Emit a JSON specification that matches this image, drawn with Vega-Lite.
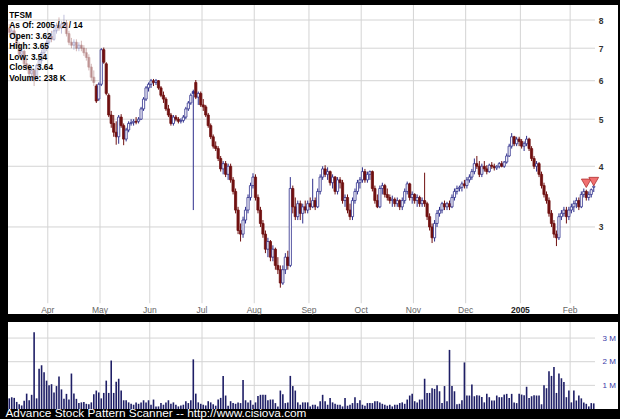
{
"$schema":"https://vega.github.io/schema/vega-lite/v6.json",
"background":"#000000",
"padding":{"left":5,"top":4,"right":5,"bottom":0},
"spacing":6,
"config":{"view":{"fill":"#ffffff","stroke":null},"font":"Liberation Sans"},
"title":{"text":"Advance Stock Pattern Scanner -- http://www.cisiova.com","orient":"bottom","anchor":"start","frame":"bounds","color":"#ffffff","fontSize":11.8,"fontWeight":"normal","font":"Liberation Sans","offset":-1.5,"dx":-2},
"datasets":{
"mon":[{"d":"2004-04-01","t":"Apr"},{"d":"2004-05-03","t":"May"},{"d":"2004-06-01","t":"Jun"},{"d":"2004-07-01","t":"Jul"},{"d":"2004-08-02","t":"Aug"},{"d":"2004-09-01","t":"Sep"},{"d":"2004-10-01","t":"Oct"},{"d":"2004-11-01","t":"Nov"},{"d":"2004-12-01","t":"Dec"},{"d":"2005-01-03","t":"2005"},{"d":"2005-02-01","t":"Feb"}],
"lv":[{"p":3},{"p":4},{"p":5},{"p":6},{"p":7},{"p":8}],
"vlv":[{"v":1},{"v":2},{"v":3}],
"sig":[{"d":"2005-02-09","p":3.69},{"d":"2005-02-14","p":3.72}],
"px":[
{"d":"2004-03-10","o":7.7,"h":7.85,"l":7.45,"c":7.55,"v":0.45},
{"d":"2004-03-11","o":7.5,"h":7.7,"l":7.3,"c":7.6,"v":0.5},
{"d":"2004-03-12","o":7.6,"h":7.8,"l":7.4,"c":7.45,"v":0.47},
{"d":"2004-03-15","o":7.4,"h":7.5,"l":7.0,"c":7.1,"v":0.3},
{"d":"2004-03-16","o":7.1,"h":7.2,"l":6.7,"c":6.8,"v":0.2},
{"d":"2004-03-17","o":6.8,"h":7.0,"l":6.6,"c":6.9,"v":0.15},
{"d":"2004-03-18","o":6.9,"h":6.95,"l":6.4,"c":6.5,"v":0.35},
{"d":"2004-03-19","o":6.5,"h":6.7,"l":6.3,"c":6.4,"v":0.65},
{"d":"2004-03-22","o":6.4,"h":6.5,"l":6.0,"c":6.2,"v":0.37},
{"d":"2004-03-23","o":6.2,"h":6.4,"l":6.0,"c":6.3,"v":0.6},
{"d":"2004-03-24","o":6.3,"h":6.35,"l":5.85,"c":6.1,"v":3.25},
{"d":"2004-03-25","o":6.1,"h":6.5,"l":6.05,"c":6.45,"v":0.45},
{"d":"2004-03-26","o":6.45,"h":6.7,"l":6.3,"c":6.6,"v":1.7},
{"d":"2004-03-29","o":6.6,"h":6.95,"l":6.5,"c":6.85,"v":1.85},
{"d":"2004-03-30","o":6.85,"h":7.1,"l":6.7,"c":7.0,"v":1.55},
{"d":"2004-03-31","o":7.0,"h":7.3,"l":6.9,"c":7.2,"v":1.2},
{"d":"2004-04-01","o":7.2,"h":7.5,"l":7.1,"c":7.4,"v":1.0},
{"d":"2004-04-02","o":7.4,"h":7.6,"l":7.2,"c":7.3,"v":1.05},
{"d":"2004-04-05","o":7.3,"h":7.7,"l":7.25,"c":7.6,"v":0.7},
{"d":"2004-04-06","o":7.6,"h":7.9,"l":7.5,"c":7.8,"v":0.97},
{"d":"2004-04-07","o":7.8,"h":8.1,"l":7.6,"c":7.7,"v":1.37},
{"d":"2004-04-08","o":7.7,"h":7.95,"l":7.5,"c":7.85,"v":0.83},
{"d":"2004-04-12","o":7.85,"h":8.2,"l":7.7,"c":7.9,"v":0.43},
{"d":"2004-04-13","o":7.9,"h":8.0,"l":7.4,"c":7.5,"v":0.64},
{"d":"2004-04-14","o":7.5,"h":7.6,"l":7.1,"c":7.2,"v":0.4},
{"d":"2004-04-15","o":7.2,"h":7.35,"l":7.0,"c":7.1,"v":1.5},
{"d":"2004-04-16","o":7.1,"h":7.3,"l":6.95,"c":7.2,"v":0.66},
{"d":"2004-04-19","o":7.2,"h":7.3,"l":6.9,"c":7.0,"v":0.43},
{"d":"2004-04-20","o":7.0,"h":7.2,"l":6.9,"c":7.1,"v":0.25},
{"d":"2004-04-21","o":7.1,"h":7.25,"l":6.9,"c":7.0,"v":0.28},
{"d":"2004-04-22","o":7.0,"h":7.1,"l":6.75,"c":6.85,"v":0.3},
{"d":"2004-04-23","o":6.85,"h":7.0,"l":6.6,"c":6.7,"v":0.22},
{"d":"2004-04-26","o":6.7,"h":6.8,"l":6.3,"c":6.4,"v":0.2},
{"d":"2004-04-27","o":6.4,"h":6.5,"l":6.0,"c":6.1,"v":0.28},
{"d":"2004-04-28","o":6.1,"h":6.3,"l":5.85,"c":5.95,"v":0.62},
{"d":"2004-04-29","o":5.85,"h":5.9,"l":5.4,"c":5.45,"v":0.78},
{"d":"2004-04-30","o":5.5,"h":5.95,"l":5.45,"c":5.9,"v":0.7},
{"d":"2004-05-03","o":5.9,"h":7.0,"l":5.85,"c":6.95,"v":0.45},
{"d":"2004-05-04","o":6.95,"h":7.02,"l":6.5,"c":6.55,"v":0.68},
{"d":"2004-05-05","o":6.5,"h":6.55,"l":5.6,"c":5.65,"v":1.2},
{"d":"2004-05-06","o":5.6,"h":5.65,"l":5.05,"c":5.1,"v":0.68},
{"d":"2004-05-07","o":5.1,"h":5.2,"l":4.8,"c":4.9,"v":2.05},
{"d":"2004-05-10","o":4.9,"h":5.1,"l":4.6,"c":4.7,"v":0.68},
{"d":"2004-05-11","o":4.7,"h":4.95,"l":4.43,"c":4.6,"v":1.15},
{"d":"2004-05-12","o":4.6,"h":5.1,"l":4.45,"c":5.05,"v":1.28},
{"d":"2004-05-13","o":5.05,"h":5.12,"l":4.8,"c":4.85,"v":0.78},
{"d":"2004-05-14","o":4.85,"h":4.9,"l":4.42,"c":4.55,"v":0.37},
{"d":"2004-05-17","o":4.55,"h":4.8,"l":4.5,"c":4.75,"v":0.37},
{"d":"2004-05-18","o":4.75,"h":4.95,"l":4.7,"c":4.9,"v":0.28},
{"d":"2004-05-19","o":4.9,"h":5.0,"l":4.85,"c":4.92,"v":0.22},
{"d":"2004-05-20","o":4.92,"h":5.0,"l":4.85,"c":4.95,"v":0.18},
{"d":"2004-05-21","o":4.95,"h":5.05,"l":4.88,"c":4.93,"v":0.28},
{"d":"2004-05-24","o":4.95,"h":5.05,"l":4.9,"c":5.0,"v":0.22},
{"d":"2004-05-25","o":5.0,"h":5.3,"l":4.98,"c":5.25,"v":0.28},
{"d":"2004-05-26","o":5.25,"h":5.55,"l":5.2,"c":5.5,"v":0.37},
{"d":"2004-05-27","o":5.5,"h":5.85,"l":5.45,"c":5.8,"v":0.28},
{"d":"2004-05-28","o":5.8,"h":5.95,"l":5.7,"c":5.9,"v":0.37},
{"d":"2004-06-01","o":5.9,"h":6.05,"l":5.8,"c":6.0,"v":0.18},
{"d":"2004-06-02","o":6.0,"h":6.05,"l":5.85,"c":5.95,"v":0.4},
{"d":"2004-06-03","o":5.95,"h":6.05,"l":5.88,"c":6.0,"v":0.11},
{"d":"2004-06-04","o":6.0,"h":6.02,"l":5.75,"c":5.8,"v":0.11},
{"d":"2004-06-07","o":5.8,"h":5.85,"l":5.55,"c":5.6,"v":0.25},
{"d":"2004-06-08","o":5.6,"h":5.7,"l":5.4,"c":5.5,"v":0.18},
{"d":"2004-06-09","o":5.5,"h":5.55,"l":5.2,"c":5.25,"v":0.28},
{"d":"2004-06-10","o":5.25,"h":5.35,"l":5.05,"c":5.1,"v":0.37},
{"d":"2004-06-14","o":5.1,"h":5.15,"l":4.85,"c":4.9,"v":0.22},
{"d":"2004-06-15","o":4.9,"h":5.1,"l":4.85,"c":5.05,"v":0.28},
{"d":"2004-06-16","o":5.05,"h":5.1,"l":4.95,"c":5.0,"v":0.18},
{"d":"2004-06-17","o":5.0,"h":5.05,"l":4.9,"c":4.95,"v":0.11},
{"d":"2004-06-18","o":4.95,"h":5.02,"l":4.9,"c":4.97,"v":0.15},
{"d":"2004-06-21","o":4.97,"h":5.1,"l":4.92,"c":5.05,"v":0.18},
{"d":"2004-06-22","o":5.05,"h":5.3,"l":5.0,"c":5.25,"v":0.33},
{"d":"2004-06-23","o":5.25,"h":5.45,"l":5.2,"c":5.4,"v":0.25},
{"d":"2004-06-24","o":5.4,"h":5.65,"l":5.35,"c":5.6,"v":0.37},
{"d":"2004-06-25","o":5.7,"h":5.75,"l":3.25,"c":5.65,"v":2.1},
{"d":"2004-06-28","o":5.95,"h":6.02,"l":5.5,"c":5.55,"v":0.65},
{"d":"2004-06-29","o":5.55,"h":5.7,"l":5.35,"c":5.65,"v":0.28},
{"d":"2004-06-30","o":5.65,"h":5.7,"l":5.3,"c":5.35,"v":0.22},
{"d":"2004-07-01","o":5.35,"h":5.5,"l":5.2,"c":5.3,"v":0.18},
{"d":"2004-07-02","o":5.3,"h":5.35,"l":5.05,"c":5.1,"v":0.15},
{"d":"2004-07-06","o":5.1,"h":5.15,"l":4.8,"c":4.85,"v":0.33},
{"d":"2004-07-07","o":4.85,"h":4.9,"l":4.55,"c":4.6,"v":0.28},
{"d":"2004-07-08","o":4.6,"h":4.65,"l":4.35,"c":4.4,"v":0.2},
{"d":"2004-07-09","o":4.4,"h":4.5,"l":4.3,"c":4.35,"v":0.14},
{"d":"2004-07-12","o":4.35,"h":4.4,"l":4.1,"c":4.15,"v":0.4},
{"d":"2004-07-13","o":4.15,"h":4.2,"l":3.9,"c":3.95,"v":0.47},
{"d":"2004-07-14","o":3.95,"h":4.1,"l":3.85,"c":4.05,"v":1.4},
{"d":"2004-07-15","o":4.05,"h":4.1,"l":3.8,"c":3.85,"v":0.57},
{"d":"2004-07-16","o":3.85,"h":4.05,"l":3.75,"c":4.0,"v":0.14},
{"d":"2004-07-19","o":4.0,"h":4.05,"l":3.7,"c":3.75,"v":0.33},
{"d":"2004-07-20","o":3.75,"h":3.8,"l":3.5,"c":3.55,"v":0.25},
{"d":"2004-07-21","o":3.55,"h":3.6,"l":3.2,"c":3.25,"v":0.22},
{"d":"2004-07-22","o":3.25,"h":3.3,"l":2.9,"c":2.95,"v":0.28},
{"d":"2004-07-23","o":2.95,"h":3.05,"l":2.8,"c":2.9,"v":0.25},
{"d":"2004-07-26","o":2.9,"h":3.15,"l":2.85,"c":3.1,"v":1.23},
{"d":"2004-07-27","o":3.1,"h":3.3,"l":3.05,"c":3.25,"v":0.37},
{"d":"2004-07-28","o":3.25,"h":3.5,"l":3.2,"c":3.45,"v":0.28},
{"d":"2004-07-29","o":3.45,"h":3.7,"l":3.4,"c":3.65,"v":0.37},
{"d":"2004-07-30","o":3.65,"h":3.87,"l":3.6,"c":3.8,"v":0.18},
{"d":"2004-08-02","o":3.8,"h":3.85,"l":3.4,"c":3.45,"v":0.28},
{"d":"2004-08-03","o":3.45,"h":3.5,"l":3.2,"c":3.25,"v":0.55},
{"d":"2004-08-04","o":3.25,"h":3.3,"l":3.0,"c":3.05,"v":0.6},
{"d":"2004-08-05","o":3.05,"h":3.1,"l":2.85,"c":2.9,"v":0.6},
{"d":"2004-08-06","o":2.9,"h":2.95,"l":2.65,"c":2.7,"v":0.6},
{"d":"2004-08-09","o":2.7,"h":2.85,"l":2.6,"c":2.8,"v":0.37},
{"d":"2004-08-10","o":2.8,"h":2.82,"l":2.55,"c":2.6,"v":0.4},
{"d":"2004-08-11","o":2.6,"h":2.75,"l":2.55,"c":2.7,"v":0.4},
{"d":"2004-08-12","o":2.7,"h":2.72,"l":2.45,"c":2.5,"v":0.25},
{"d":"2004-08-13","o":2.5,"h":2.6,"l":2.4,"c":2.45,"v":0.11},
{"d":"2004-08-16","o":2.45,"h":2.5,"l":2.25,"c":2.3,"v":0.78},
{"d":"2004-08-17","o":2.3,"h":2.5,"l":2.28,"c":2.45,"v":0.62},
{"d":"2004-08-18","o":2.45,"h":2.65,"l":2.4,"c":2.6,"v":0.25},
{"d":"2004-08-19","o":2.6,"h":2.68,"l":2.45,"c":2.5,"v":0.28},
{"d":"2004-08-20","o":2.5,"h":3.8,"l":2.48,"c":3.6,"v":1.4},
{"d":"2004-08-23","o":3.6,"h":3.65,"l":3.2,"c":3.3,"v":0.97},
{"d":"2004-08-24","o":3.3,"h":3.45,"l":3.1,"c":3.15,"v":0.78},
{"d":"2004-08-25","o":3.15,"h":3.4,"l":3.1,"c":3.35,"v":0.28},
{"d":"2004-08-26","o":3.35,"h":3.4,"l":3.1,"c":3.2,"v":0.18},
{"d":"2004-08-27","o":3.2,"h":3.35,"l":3.05,"c":3.3,"v":0.28},
{"d":"2004-08-30","o":3.3,"h":3.4,"l":3.2,"c":3.25,"v":0.28},
{"d":"2004-08-31","o":3.25,"h":3.4,"l":3.2,"c":3.35,"v":0.28},
{"d":"2004-09-01","o":3.35,"h":3.45,"l":3.25,"c":3.3,"v":0.11},
{"d":"2004-09-02","o":3.3,"h":3.77,"l":3.28,"c":3.4,"v":0.18},
{"d":"2004-09-03","o":3.4,"h":3.45,"l":3.25,"c":3.3,"v":0.18},
{"d":"2004-09-07","o":3.3,"h":3.6,"l":3.28,"c":3.55,"v":0.11},
{"d":"2004-09-08","o":3.55,"h":3.85,"l":3.5,"c":3.8,"v":0.33},
{"d":"2004-09-09","o":3.8,"h":4.0,"l":3.75,"c":3.95,"v":0.6},
{"d":"2004-09-10","o":3.95,"h":4.02,"l":3.8,"c":3.85,"v":0.33},
{"d":"2004-09-13","o":3.85,"h":3.98,"l":3.75,"c":3.9,"v":0.18},
{"d":"2004-09-14","o":3.9,"h":3.92,"l":3.65,"c":3.7,"v":0.47},
{"d":"2004-09-15","o":3.7,"h":3.85,"l":3.6,"c":3.8,"v":0.28},
{"d":"2004-09-16","o":3.8,"h":3.82,"l":3.5,"c":3.55,"v":0.22},
{"d":"2004-09-17","o":3.55,"h":3.8,"l":3.5,"c":3.75,"v":0.18},
{"d":"2004-09-20","o":3.75,"h":3.8,"l":3.6,"c":3.7,"v":0.18},
{"d":"2004-09-21","o":3.7,"h":3.75,"l":3.35,"c":3.4,"v":0.11},
{"d":"2004-09-22","o":3.4,"h":3.5,"l":3.3,"c":3.45,"v":0.47},
{"d":"2004-09-23","o":3.45,"h":3.5,"l":3.2,"c":3.25,"v":0.14},
{"d":"2004-09-24","o":3.25,"h":3.35,"l":3.1,"c":3.15,"v":0.18},
{"d":"2004-09-27","o":3.15,"h":3.45,"l":3.1,"c":3.4,"v":0.25},
{"d":"2004-09-28","o":3.4,"h":3.6,"l":3.35,"c":3.55,"v":0.5},
{"d":"2004-09-29","o":3.55,"h":3.75,"l":3.5,"c":3.7,"v":0.25},
{"d":"2004-09-30","o":3.7,"h":3.8,"l":3.6,"c":3.75,"v":0.37},
{"d":"2004-10-01","o":3.75,"h":3.98,"l":3.7,"c":3.9,"v":0.18},
{"d":"2004-10-04","o":3.9,"h":3.95,"l":3.7,"c":3.75,"v":0.14},
{"d":"2004-10-05","o":3.75,"h":3.9,"l":3.7,"c":3.85,"v":0.25},
{"d":"2004-10-06","o":3.85,"h":3.92,"l":3.75,"c":3.9,"v":0.25},
{"d":"2004-10-07","o":3.9,"h":3.92,"l":3.55,"c":3.6,"v":0.25},
{"d":"2004-10-08","o":3.6,"h":3.65,"l":3.35,"c":3.4,"v":0.33},
{"d":"2004-10-11","o":3.4,"h":3.5,"l":3.28,"c":3.3,"v":0.33},
{"d":"2004-10-12","o":3.3,"h":3.65,"l":3.28,"c":3.6,"v":0.28},
{"d":"2004-10-13","o":3.6,"h":3.7,"l":3.5,"c":3.65,"v":0.22},
{"d":"2004-10-14","o":3.65,"h":3.68,"l":3.45,"c":3.5,"v":0.18},
{"d":"2004-10-15","o":3.5,"h":3.6,"l":3.4,"c":3.45,"v":0.14},
{"d":"2004-10-18","o":3.45,"h":3.5,"l":3.35,"c":3.4,"v":0.18},
{"d":"2004-10-19","o":3.4,"h":3.48,"l":3.3,"c":3.42,"v":0.11},
{"d":"2004-10-20","o":3.42,"h":3.45,"l":3.3,"c":3.35,"v":0.18},
{"d":"2004-10-21","o":3.35,"h":3.45,"l":3.3,"c":3.4,"v":0.18},
{"d":"2004-10-22","o":3.4,"h":3.42,"l":3.25,"c":3.3,"v":0.25},
{"d":"2004-10-25","o":3.3,"h":3.45,"l":3.25,"c":3.4,"v":0.28},
{"d":"2004-10-26","o":3.4,"h":3.6,"l":3.35,"c":3.55,"v":0.22},
{"d":"2004-10-27","o":3.55,"h":3.72,"l":3.5,"c":3.68,"v":0.4},
{"d":"2004-10-28","o":3.68,"h":3.7,"l":3.4,"c":3.45,"v":0.57},
{"d":"2004-10-29","o":3.45,"h":3.55,"l":3.35,"c":3.5,"v":0.65},
{"d":"2004-11-01","o":3.5,"h":3.52,"l":3.35,"c":3.4,"v":0.33},
{"d":"2004-11-02","o":3.4,"h":3.5,"l":3.3,"c":3.45,"v":0.28},
{"d":"2004-11-03","o":3.45,"h":3.48,"l":3.3,"c":3.35,"v":0.4},
{"d":"2004-11-04","o":3.35,"h":3.45,"l":3.3,"c":3.4,"v":0.4},
{"d":"2004-11-05","o":3.4,"h":3.88,"l":3.3,"c":3.35,"v":1.28},
{"d":"2004-11-08","o":3.35,"h":3.38,"l":3.1,"c":3.15,"v":0.68},
{"d":"2004-11-09","o":3.15,"h":3.2,"l":2.95,"c":3.0,"v":0.68},
{"d":"2004-11-10","o":3.0,"h":3.05,"l":2.78,"c":2.85,"v":0.88},
{"d":"2004-11-11","o":2.85,"h":3.1,"l":2.8,"c":3.05,"v":0.85},
{"d":"2004-11-12","o":3.05,"h":3.25,"l":3.0,"c":3.2,"v":1.0},
{"d":"2004-11-15","o":3.2,"h":3.3,"l":3.15,"c":3.25,"v":0.75},
{"d":"2004-11-16","o":3.25,"h":3.38,"l":3.2,"c":3.35,"v":0.25},
{"d":"2004-11-17","o":3.35,"h":3.4,"l":3.25,"c":3.3,"v":0.97},
{"d":"2004-11-18","o":3.3,"h":3.38,"l":3.25,"c":3.35,"v":0.33},
{"d":"2004-11-19","o":3.35,"h":3.4,"l":3.25,"c":3.3,"v":2.5},
{"d":"2004-11-22","o":3.3,"h":3.5,"l":3.28,"c":3.45,"v":0.97},
{"d":"2004-11-23","o":3.45,"h":3.6,"l":3.4,"c":3.55,"v":0.75},
{"d":"2004-11-24","o":3.55,"h":3.65,"l":3.5,"c":3.6,"v":0.2},
{"d":"2004-11-26","o":3.6,"h":3.65,"l":3.55,"c":3.62,"v":0.22},
{"d":"2004-11-29","o":3.62,"h":3.72,"l":3.55,"c":3.68,"v":0.37},
{"d":"2004-11-30","o":3.68,"h":3.75,"l":3.6,"c":3.65,"v":1.97},
{"d":"2004-12-01","o":3.65,"h":3.8,"l":3.6,"c":3.75,"v":0.57},
{"d":"2004-12-02","o":3.75,"h":3.85,"l":3.7,"c":3.8,"v":0.57},
{"d":"2004-12-03","o":3.8,"h":3.95,"l":3.75,"c":3.9,"v":1.04},
{"d":"2004-12-06","o":3.9,"h":4.15,"l":3.85,"c":4.05,"v":0.54},
{"d":"2004-12-07","o":4.05,"h":4.2,"l":3.95,"c":4.0,"v":0.58},
{"d":"2004-12-08","o":4.0,"h":4.1,"l":3.8,"c":3.85,"v":0.57},
{"d":"2004-12-09","o":3.85,"h":4.05,"l":3.8,"c":4.0,"v":0.51},
{"d":"2004-12-10","o":4.0,"h":4.1,"l":3.9,"c":3.95,"v":0.28},
{"d":"2004-12-13","o":3.95,"h":4.02,"l":3.85,"c":3.9,"v":0.64},
{"d":"2004-12-14","o":3.9,"h":4.05,"l":3.88,"c":4.02,"v":0.5},
{"d":"2004-12-15","o":4.02,"h":4.08,"l":3.95,"c":4.0,"v":0.36},
{"d":"2004-12-16","o":4.0,"h":4.05,"l":3.92,"c":3.97,"v":0.36},
{"d":"2004-12-17","o":3.97,"h":4.02,"l":3.93,"c":4.0,"v":0.57},
{"d":"2004-12-20","o":4.0,"h":4.08,"l":3.96,"c":4.05,"v":0.5},
{"d":"2004-12-21","o":4.05,"h":4.1,"l":3.98,"c":4.0,"v":0.5},
{"d":"2004-12-22","o":4.0,"h":4.1,"l":3.97,"c":4.08,"v":0.61},
{"d":"2004-12-23","o":4.08,"h":4.25,"l":4.05,"c":4.2,"v":0.64},
{"d":"2004-12-27","o":4.2,"h":4.45,"l":4.18,"c":4.4,"v":0.47},
{"d":"2004-12-28","o":4.4,"h":4.68,"l":4.35,"c":4.6,"v":0.64},
{"d":"2004-12-29","o":4.6,"h":4.62,"l":4.4,"c":4.45,"v":0.28},
{"d":"2004-12-30","o":4.45,"h":4.6,"l":4.4,"c":4.55,"v":0.25},
{"d":"2004-12-31","o":4.55,"h":4.6,"l":4.4,"c":4.5,"v":0.64},
{"d":"2005-01-03","o":4.5,"h":4.55,"l":4.35,"c":4.4,"v":0.61},
{"d":"2005-01-04","o":4.4,"h":4.5,"l":4.3,"c":4.45,"v":0.58},
{"d":"2005-01-05","o":4.45,"h":4.62,"l":4.4,"c":4.55,"v":0.94},
{"d":"2005-01-06","o":4.55,"h":4.58,"l":4.3,"c":4.35,"v":0.47},
{"d":"2005-01-07","o":4.35,"h":4.4,"l":4.1,"c":4.15,"v":0.54},
{"d":"2005-01-10","o":4.15,"h":4.2,"l":3.95,"c":4.0,"v":0.58},
{"d":"2005-01-11","o":4.0,"h":4.1,"l":3.9,"c":4.05,"v":0.57},
{"d":"2005-01-12","o":4.05,"h":4.08,"l":3.8,"c":3.85,"v":0.57},
{"d":"2005-01-13","o":3.85,"h":3.9,"l":3.6,"c":3.65,"v":0.2},
{"d":"2005-01-14","o":3.65,"h":3.7,"l":3.45,"c":3.5,"v":1.0},
{"d":"2005-01-18","o":3.5,"h":3.55,"l":3.35,"c":3.4,"v":0.88},
{"d":"2005-01-19","o":3.4,"h":3.45,"l":3.15,"c":3.2,"v":1.6},
{"d":"2005-01-20","o":3.2,"h":3.25,"l":3.0,"c":3.05,"v":1.4},
{"d":"2005-01-21","o":3.05,"h":3.1,"l":2.85,"c":2.9,"v":1.78},
{"d":"2005-01-24","o":2.9,"h":2.95,"l":2.74,"c":2.85,"v":0.68},
{"d":"2005-01-25","o":2.85,"h":3.2,"l":2.82,"c":3.15,"v":1.5},
{"d":"2005-01-26","o":3.15,"h":3.25,"l":3.1,"c":3.2,"v":1.3},
{"d":"2005-01-27","o":3.2,"h":3.3,"l":3.15,"c":3.25,"v":1.14},
{"d":"2005-01-28","o":3.25,"h":3.3,"l":3.05,"c":3.15,"v":0.5},
{"d":"2005-01-31","o":3.15,"h":3.3,"l":3.1,"c":3.25,"v":0.78},
{"d":"2005-02-01","o":3.25,"h":3.35,"l":3.2,"c":3.3,"v":0.28},
{"d":"2005-02-02","o":3.3,"h":3.4,"l":3.22,"c":3.35,"v":0.78},
{"d":"2005-02-03","o":3.35,"h":3.45,"l":3.28,"c":3.4,"v":0.36},
{"d":"2005-02-04","o":3.4,"h":3.45,"l":3.25,"c":3.3,"v":0.57},
{"d":"2005-02-07","o":3.3,"h":3.55,"l":3.28,"c":3.5,"v":0.45},
{"d":"2005-02-08","o":3.5,"h":3.6,"l":3.45,"c":3.55,"v":0.28},
{"d":"2005-02-09","o":3.55,"h":3.58,"l":3.4,"c":3.45,"v":0.22},
{"d":"2005-02-10","o":3.45,"h":3.55,"l":3.4,"c":3.5,"v":0.11},
{"d":"2005-02-11","o":3.5,"h":3.6,"l":3.45,"c":3.58,"v":0.25},
{"d":"2005-02-14","o":3.62,"h":3.65,"l":3.54,"c":3.64,"v":0.238}
]},
"vconcat":[
{"width":610,"height":309,
 "layer":[
  {"data":{"name":"mon"},"mark":{"type":"rule","color":"#d4d4d4","strokeWidth":1},
   "encoding":{"x":{"field":"d","type":"ordinal","bandPosition":0,"scale":{"type":"band","range":[0,587],"paddingInner":0,"paddingOuter":0},"axis":null},
               "y":{"datum":8.59,"type":"quantitative","scale":{"type":"log","domain":[1.986,8.59],"nice":false},
                    "axis":{"orient":"right","values":[3,4,5,6,7,8],"format":"d","domain":false,"ticks":false,"grid":false,"labelPadding":-17.5,"labelAlign":"center","labelFontWeight":"bold","labelFontSize":8.5,"labelColor":"#333333","labelOverlap":false,"title":null}},
               "y2":{"datum":2.09}}},
  {"data":{"name":"lv"},"mark":{"type":"rule","color":"#d4d4d4","strokeWidth":1},
   "encoding":{"x":{"datum":"2004-03-10","type":"ordinal","bandPosition":0,"axis":null},"x2":{"datum":"2005-02-14","bandPosition":1},
               "y":{"field":"p","type":"quantitative"}}},
  {"data":{"name":"px"},
   "transform":[{"window":[{"op":"lag","field":"c","as":"pc"}],"sort":[{"field":"d","order":"ascending"}]}],
   "layer":[
    {"mark":{"type":"rule","strokeWidth":1},
     "encoding":{"x":{"field":"d","type":"ordinal","axis":null},
                 "y":{"field":"l","type":"quantitative"},
                 "y2":{"field":"h"},
                 "color":{"condition":{"test":"datum.c >= (datum.pc == null ? datum.o : datum.pc)","value":"#2e2e8c"},"value":"#701010"},
                 "opacity":{"condition":{"test":"datum.d < '2004-04-29'","value":0.3},"value":1}}},
    {"mark":{"type":"bar","size":2.2,"strokeWidth":0.8},
     "encoding":{"x":{"field":"d","type":"ordinal","axis":null},
                 "y":{"field":"o","type":"quantitative"},"y2":{"field":"c"},
                 "stroke":{"condition":{"test":"datum.c >= (datum.pc == null ? datum.o : datum.pc)","value":"#2e2e8c"},"value":"#701010"},
                 "fill":{"condition":[{"test":"datum.c > datum.o","value":"#ffffff"},{"test":"datum.c >= (datum.pc == null ? datum.o : datum.pc)","value":"#2e2e8c"}],"value":"#701010"},
                 "opacity":{"condition":{"test":"datum.d < '2004-04-29'","value":0.3},"value":1}}}
   ]},
  {"data":{"name":"sig"},"mark":{"type":"point","shape":"triangle-down","filled":true,"size":95,"fill":"#f07070","stroke":"#b03030","strokeWidth":0.8,"opacity":1},
   "encoding":{"x":{"field":"d","type":"ordinal","axis":null},"y":{"field":"p","type":"quantitative"}}},
  {"data":{"name":"mon"},"transform":[{"filter":"datum.t != '2005'"}],
   "mark":{"type":"text","fontSize":8.5,"color":"#666666","baseline":"middle","align":"center"},
   "encoding":{"x":{"field":"d","type":"ordinal","bandPosition":0,"axis":null},"y":{"datum":2.024,"type":"quantitative"},"text":{"field":"t"}}},
  {"data":{"name":"mon"},"transform":[{"filter":"datum.t == '2005'"}],
   "mark":{"type":"text","fontSize":8.5,"fontWeight":"bold","color":"#222222","baseline":"middle","align":"center"},
   "encoding":{"x":{"field":"d","type":"ordinal","bandPosition":0,"axis":null},"y":{"datum":2.024,"type":"quantitative"},"text":{"field":"t"}}},
  {"data":{"values":[{}]},
   "mark":{"type":"text","text":["TFSM","As Of: 2005 / 2 / 14","Open: 3.62","High: 3.65","Low: 3.54","Close: 3.64","Volume: 238 K"],"lineHeight":10.5,"fontSize":8.3,"fontWeight":"bold","align":"left","baseline":"alphabetic","color":"#000000"},
   "encoding":{"x":{"datum":"2004-03-10","type":"ordinal","axis":null},"y":{"datum":8.09,"type":"quantitative"}}}
 ]},
{"width":610,"height":87,
 "layer":[
  {"data":{"name":"mon"},"mark":{"type":"rule","color":"#d4d4d4","strokeWidth":1},
   "encoding":{"x":{"field":"d","type":"ordinal","bandPosition":0,"scale":{"type":"band","range":[0,587],"paddingInner":0,"paddingOuter":0},"axis":null}}},
  {"data":{"name":"vlv"},"mark":{"type":"rule","color":"#d4d4d4","strokeWidth":1},
   "encoding":{"x":{"datum":"2004-03-10","type":"ordinal","bandPosition":0,"axis":null},"x2":{"datum":"2005-02-14","bandPosition":1},
               "y":{"field":"v","type":"quantitative","scale":{"domain":[0,3.68],"nice":false},
                    "axis":{"orient":"right","values":[1,2,3],"labelExpr":"datum.value + ' M'","domain":false,"ticks":false,"grid":false,"labelPadding":-16,"labelAlign":"left","labelFontSize":8,"labelColor":"#3a3aa8","labelOverlap":false,"title":null}}}},
  {"data":{"name":"px"},"mark":{"type":"bar","size":1.6,"color":"#1e1e66"},
   "encoding":{"x":{"field":"d","type":"ordinal","axis":null},"y":{"field":"v","type":"quantitative"}}}
 ]}
]
}
